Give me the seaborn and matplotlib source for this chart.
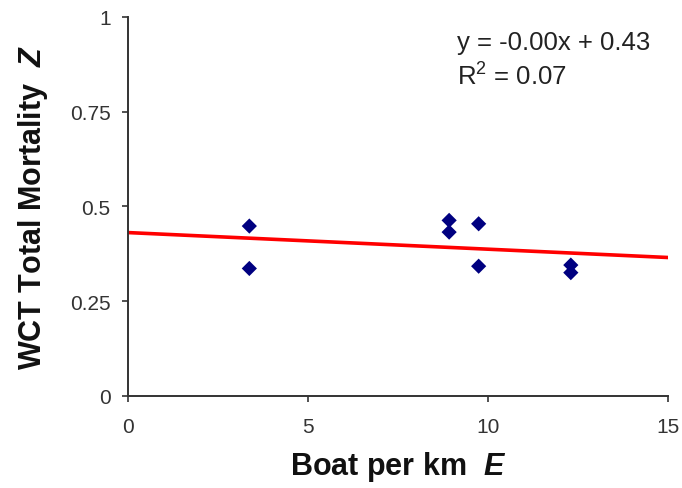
import matplotlib
matplotlib.use("Agg")
import matplotlib.pyplot as plt
import seaborn as sns
import pandas as pd

# Boat density (boats per km) and WCT total mortality
boats_per_km = [3.37, 3.37, 8.92, 8.92, 9.74, 9.74, 12.30, 12.30]
mortality_z = [0.448, 0.336, 0.463, 0.432, 0.454, 0.342, 0.345, 0.325]

x_ticks = [0, 5, 10, 15]
y_ticks = [0, 0.25, 0.5, 0.75, 1]
y_tick_labels = ["0", "0.25", "0.5", "0.75", "1"]

eq_text = "y = -0.00x + 0.43"
r2_text = "R$^2$ = 0.07"

df = pd.DataFrame({"E": boats_per_km, "Z": mortality_z})

sns.set_theme(style="white")
plt.rcParams["font.family"] = ["Liberation Sans", "DejaVu Sans"]
plt.rcParams["mathtext.fontset"] = "custom"
plt.rcParams["mathtext.rm"] = "Liberation Sans"
plt.rcParams["mathtext.it"] = "Liberation Sans:italic:bold"

fig = plt.figure(figsize=(6.82, 4.89), dpi=100)
ax = fig.add_axes([0.1877, 0.1887, 0.7918, 0.7745])
ax.set_xlim(0, 15)
ax.set_ylim(0, 1)

sns.regplot(data=df, x="E", y="Z", ax=ax, ci=None, truncate=False,
            marker="D",
            scatter_kws={"color": "#000080", "s": 60, "alpha": 1,
                         "edgecolors": "none", "zorder": 3},
            line_kws={"color": "#FF0000", "lw": 2.6, "zorder": 2})

ax.set_xlim(0, 15)
ax.set_ylim(0, 1)
ax.set_xticks(x_ticks)
ax.set_xticklabels([str(t) for t in x_ticks])
ax.set_yticks(y_ticks)
ax.set_yticklabels(y_tick_labels)

for s in ["top", "right"]:
    ax.spines[s].set_visible(False)
for s in ["left", "bottom"]:
    ax.spines[s].set_color("#333333")
    ax.spines[s].set_linewidth(1.4)

ax.tick_params(axis="both", which="major", direction="out", length=4.5, width=1.2,
               color="#333333", labelsize=15, labelcolor="#333333",
               bottom=True, left=True)
ax.tick_params(axis="x", pad=11)
ax.tick_params(axis="y", pad=8)

ax.set_xlabel("Boat per km  $\\mathit{E}$", fontsize=22, fontweight="bold",
              labelpad=9, color="#111111")
ax.set_ylabel("WCT Total Mortality  $\\mathit{Z}$", fontsize=22, fontweight="bold",
              labelpad=14, color="#111111")

ax.text(0.61, 0.935, eq_text, transform=ax.transAxes, fontsize=18.5,
        color="#222222", va="center")
ax.text(0.61, 0.845, r2_text, transform=ax.transAxes, fontsize=18.5,
        color="#222222", va="center")

fig.savefig("out.png", dpi=100)
